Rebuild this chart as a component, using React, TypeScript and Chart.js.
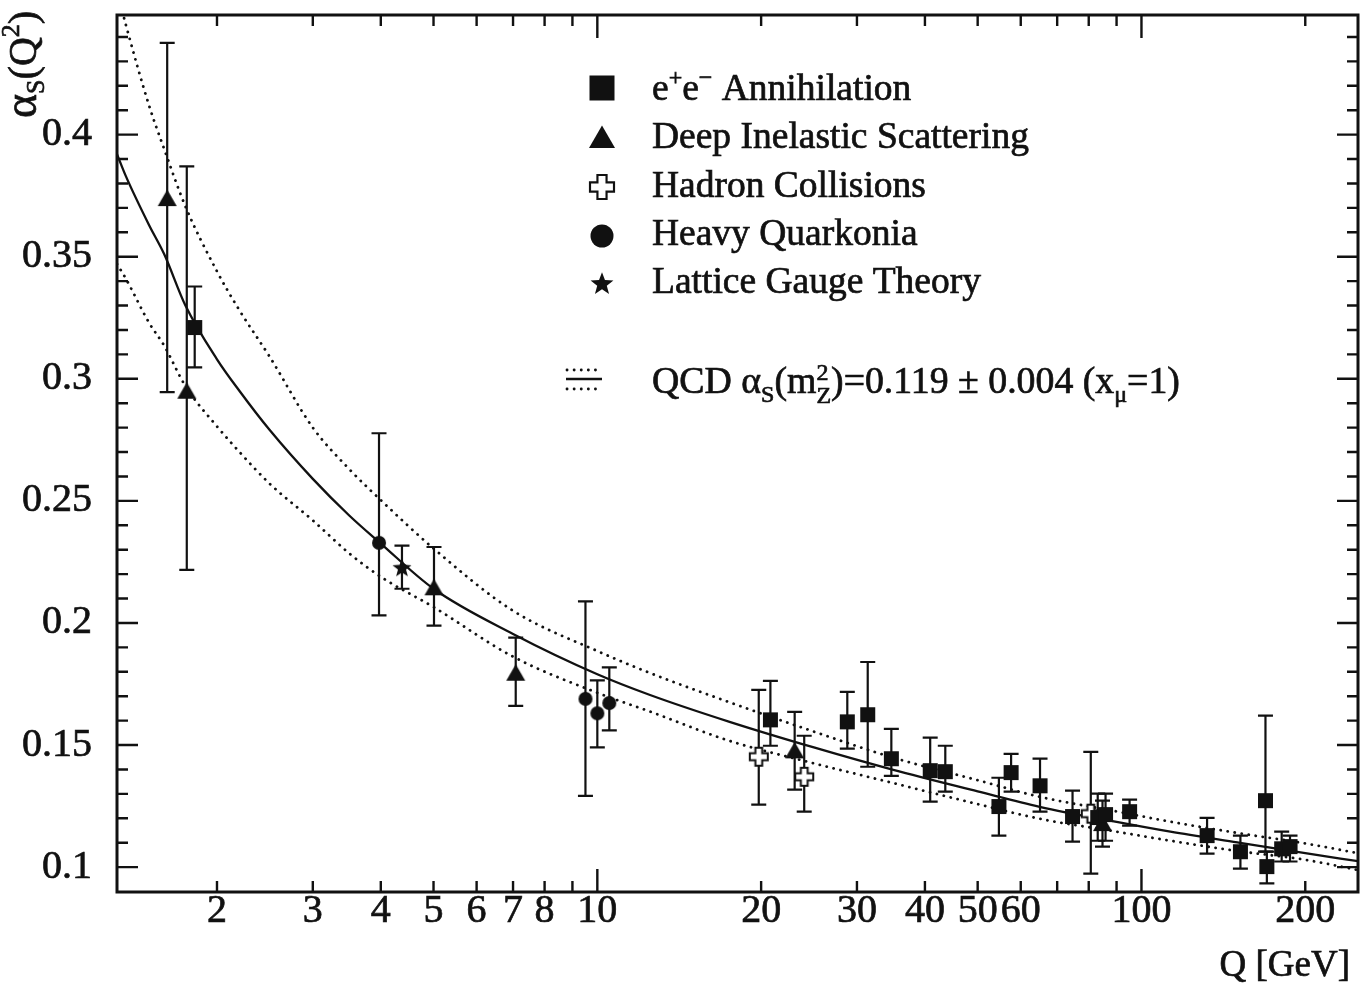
import React, { useEffect, useRef } from 'react';
import { Chart, registerables } from 'chart.js';

Chart.register(...registerables);

// ---------------- data ----------------
// e+e- annihilation (filled squares)
const eeQ = [1.82, 20.8, 28.8, 31.4, 34.7, 40.9, 43.6, 54.7, 57.6, 65.1, 74.7, 83.1, 85.9, 95.1, 132, 152, 169, 170, 181, 187.5];
const eeVal = [0.321, 0.1603, 0.1595, 0.1624, 0.1444, 0.1395, 0.1391, 0.1248, 0.1387, 0.1333, 0.1207, 0.1203, 0.1215, 0.1227, 0.1129, 0.1063, 0.1272, 0.1002, 0.1075, 0.1084];
const eeHigh = [0.3378, 0.1763, 0.1718, 0.184, 0.1566, 0.153, 0.1497, 0.1366, 0.1464, 0.1444, 0.1313, 0.1301, 0.1301, 0.1276, 0.1202, 0.1129, 0.162, 0.1063, 0.1145, 0.1129];
const eeLow = [0.3047, 0.1497, 0.1485, 0.1411, 0.1374, 0.1268, 0.1309, 0.1129, 0.1309, 0.1227, 0.1104, 0.1108, 0.1108, 0.117, 0.1055, 0.0994, 0.1063, 0.0933, 0.1023, 0.1023];

// Deep inelastic scattering (filled triangles)
const disQ = [1.62, 1.76, 5.01, 7.08, 23.05, 84.8];
const disVal = [0.3734, 0.2945, 0.214, 0.179, 0.1472, 0.1174];
const disHigh = [0.4376, 0.387, 0.2311, 0.194, 0.1636, 0.1272];
const disLow = [0.2945, 0.2217, 0.1989, 0.166, 0.1317, 0.1084];

// Hadron collisions (open crosses)
const hadQ = [19.8, 24.0, 80.7];
const hadVal = [0.1452, 0.137, 0.1219];
const hadHigh = [0.1726, 0.1538, 0.1472];
const hadLow = [0.1256, 0.1227, 0.0973];

// Heavy quarkonia (filled circles)
const quaQ = [3.97, 9.51, 10.0, 10.52];
const quaVal = [0.2328, 0.1689, 0.163, 0.1672];
const quaHigh = [0.2777, 0.2088, 0.1765, 0.1818];
const quaLow = [0.2031, 0.1292, 0.149, 0.156];

// Lattice gauge theory (star)
const latQ = [4.375];
const latVal = [0.2228];
const latHigh = [0.2317];
const latLow = [0.214];

// QCD running curves
const curveQ = [1.31, 1.36, 1.5, 1.6, 1.75, 2, 2.2, 2.5, 3, 3.5, 4, 5, 7, 10, 12.5, 17.5, 25, 35, 50, 65, 90, 113, 150, 200, 250];
const qcdCentral = [0.392, 0.383, 0.363, 0.351, 0.33, 0.308, 0.295, 0.279, 0.259, 0.244, 0.2325, 0.214, 0.1955, 0.179, 0.1705, 0.1595, 0.149, 0.1398, 0.131, 0.1247, 0.1185, 0.1145, 0.1101, 0.1057, 0.1024];
const qcdUpper = [0.459, 0.445, 0.412, 0.394, 0.3706, 0.344, 0.328, 0.309, 0.28, 0.263, 0.2503, 0.2305, 0.205, 0.1885, 0.1795, 0.1675, 0.1555, 0.1448, 0.1356, 0.1288, 0.1228, 0.1186, 0.114, 0.1097, 0.1057];
const qcdLower = [0.347, 0.341, 0.323, 0.3135, 0.297, 0.2805, 0.27, 0.257, 0.242, 0.2285, 0.2189, 0.2065, 0.1862, 0.1714, 0.1637, 0.1517, 0.1425, 0.1344, 0.1258, 0.1198, 0.1145, 0.1108, 0.1066, 0.103, 0.0988];

// ticks
const xTickValues = [2, 3, 4, 5, 6, 7, 8, 9, 10, 20, 30, 40, 50, 60, 70, 80, 90, 100, 200];
const xTickLabels = [2, 3, 4, 5, 6, 7, 8, 10, 20, 30, 40, 50, 60, 100, 200];
const xLongTicks = [10, 100];
const yTickValues = [0.1, 0.15, 0.2, 0.25, 0.3, 0.35, 0.4];
const yMinorTicks = [0.11, 0.12, 0.13, 0.14, 0.16, 0.17, 0.18, 0.19, 0.21, 0.22, 0.23, 0.24, 0.26, 0.27, 0.28, 0.29, 0.31, 0.32, 0.33, 0.34, 0.36, 0.37, 0.38, 0.39, 0.41, 0.42, 0.43, 0.44];

// ---------------- styling ----------------
const FONT = "'Liberation Serif', 'Times New Roman', serif";
const INK = '#111111';
const TEXT_STROKE = 0.7;

type Run = { t: string; size?: number; dy?: number; stack?: { t: string; size: number; dy: number } };

function drawShape(ctx: CanvasRenderingContext2D, kind: string, x: number, y: number, s: number) {
  ctx.save();
  ctx.fillStyle = INK;
  ctx.strokeStyle = INK;
  if (kind === 'square') {
    ctx.fillRect(x - s / 2, y - s / 2, s, s);
  } else if (kind === 'triangle') {
    const h = s * 0.87;
    ctx.beginPath();
    ctx.moveTo(x, y - h * 0.6);
    ctx.lineTo(x + s / 2, y + h * 0.4);
    ctx.lineTo(x - s / 2, y + h * 0.4);
    ctx.closePath();
    ctx.fill();
  } else if (kind === 'circle') {
    ctx.beginPath();
    ctx.arc(x, y, s / 2, 0, Math.PI * 2);
    ctx.fill();
  } else if (kind === 'cross') {
    const a = s / 2;
    const b = s * 0.19;
    ctx.beginPath();
    ctx.moveTo(x - b, y - a);
    ctx.lineTo(x + b, y - a);
    ctx.lineTo(x + b, y - b);
    ctx.lineTo(x + a, y - b);
    ctx.lineTo(x + a, y + b);
    ctx.lineTo(x + b, y + b);
    ctx.lineTo(x + b, y + a);
    ctx.lineTo(x - b, y + a);
    ctx.lineTo(x - b, y + b);
    ctx.lineTo(x - a, y + b);
    ctx.lineTo(x - a, y - b);
    ctx.lineTo(x - b, y - b);
    ctx.closePath();
    ctx.fillStyle = '#ffffff';
    ctx.fill();
    ctx.lineWidth = Math.max(2, s * 0.09);
    ctx.lineJoin = 'miter';
    ctx.stroke();
  } else if (kind === 'star') {
    const R = s / 2;
    ctx.beginPath();
    for (let k = 0; k < 10; k++) {
      const r = k % 2 === 0 ? R : R * 0.42;
      const ang = -Math.PI / 2 + (k * Math.PI) / 5;
      const px = x + r * Math.cos(ang);
      const py = y + R * 0.1 + r * Math.sin(ang);
      if (k === 0) ctx.moveTo(px, py);
      else ctx.lineTo(px, py);
    }
    ctx.closePath();
    ctx.fill();
  }
  ctx.restore();
}

function makeMarker(kind: string, s: number): HTMLCanvasElement {
  const c = document.createElement('canvas');
  const size = Math.ceil(s + 6);
  c.width = size;
  c.height = size;
  const ctx = c.getContext('2d')!;
  drawShape(ctx, kind, size / 2, size / 2, s);
  return c;
}

function drawRuns(ctx: CanvasRenderingContext2D, runs: Run[], x: number, y: number, base = 37.5) {
  let cx = x;
  ctx.lineWidth = TEXT_STROKE;
  ctx.strokeStyle = INK;
  ctx.fillStyle = INK;
  for (const r of runs) {
    ctx.font = `${r.size ?? base}px ${FONT}`;
    ctx.fillText(r.t, cx, y + (r.dy ?? 0));
    ctx.strokeText(r.t, cx, y + (r.dy ?? 0));
    let w = ctx.measureText(r.t).width;
    if (r.stack) {
      ctx.font = `${r.stack.size}px ${FONT}`;
      ctx.fillText(r.stack.t, cx, y + r.stack.dy);
      ctx.strokeText(r.stack.t, cx, y + r.stack.dy);
      w = Math.max(w, ctx.measureText(r.stack.t).width);
    }
    cx += w;
  }
  return cx;
}

const series = [
  { label: 'e+e− Annihilation', kind: 'square', q: eeQ, v: eeVal, hi: eeHigh, lo: eeLow, size: 15, legendSize: 25, legendY: 88,
    runs: [{ t: 'e' }, { t: '+', size: 24, dy: -15 }, { t: 'e' }, { t: '−', size: 24, dy: -15 }, { t: ' Annihilation' }] as Run[] },
  { label: 'Deep Inelastic Scattering', kind: 'triangle', q: disQ, v: disVal, hi: disHigh, lo: disLow, size: 19, legendSize: 26, legendY: 139,
    runs: [{ t: 'Deep Inelastic Scattering' }] as Run[] },
  { label: 'Hadron Collisions', kind: 'cross', q: hadQ, v: hadVal, hi: hadHigh, lo: hadLow, size: 18, legendSize: 24, legendY: 187,
    runs: [{ t: 'Hadron Collisions' }] as Run[] },
  { label: 'Heavy Quarkonia', kind: 'circle', q: quaQ, v: quaVal, hi: quaHigh, lo: quaLow, size: 14, legendSize: 23, legendY: 236,
    runs: [{ t: 'Heavy Quarkonia' }] as Run[] },
  { label: 'Lattice Gauge Theory', kind: 'star', q: latQ, v: latVal, hi: latHigh, lo: latLow, size: 20, legendSize: 24, legendY: 283,
    runs: [{ t: 'Lattice Gauge Theory' }] as Run[] },
];
const legendBaselines = [100, 148, 197, 245, 293];

const qcdRuns: Run[] = [
  { t: 'QCD ' },
  { t: 'α' },
  { t: 'S', size: 24, dy: 9 },
  { t: '(m' },
  { t: '2', size: 24, dy: -13, stack: { t: 'Z', size: 24, dy: 10 } },
  { t: ')=0.119 ± 0.004 (x' },
  { t: 'μ', size: 24, dy: 9 },
  { t: '=1)' },
];

const yTitleRuns: Run[] = [
  { t: 'α', size: 46 },
  { t: 'S', size: 26, dy: 8 },
  { t: '(Q', size: 40 },
  { t: '2', size: 26, dy: -17 },
  { t: ')', size: 40 },
];

// ---------------- plugins ----------------
const errorBarPlugin = {
  id: 'errorBars',
  beforeDatasetsDraw(chart: any) {
    const { ctx } = chart;
    const xs = chart.scales.x;
    const ys = chart.scales.y;
    ctx.save();
    ctx.strokeStyle = INK;
    ctx.lineWidth = 2.2;
    for (const s of series) {
      for (let i = 0; i < s.q.length; i++) {
        const px = xs.getPixelForValue(s.q[i]);
        const ph = ys.getPixelForValue(s.hi[i]);
        const pl = ys.getPixelForValue(s.lo[i]);
        ctx.beginPath();
        ctx.moveTo(px, ph);
        ctx.lineTo(px, pl);
        ctx.moveTo(px - 7.5, ph);
        ctx.lineTo(px + 7.5, ph);
        ctx.moveTo(px - 7.5, pl);
        ctx.lineTo(px + 7.5, pl);
        ctx.stroke();
      }
    }
    ctx.restore();
  },
};

const framePlugin = {
  id: 'frame',
  afterDraw(chart: any) {
    const { ctx, chartArea: a } = chart;
    const xs = chart.scales.x;
    const ys = chart.scales.y;
    ctx.save();
    ctx.strokeStyle = INK;
    ctx.lineWidth = 3;
    ctx.strokeRect(a.left, a.top, a.right - a.left, a.bottom - a.top);
    ctx.lineWidth = 2.4;
    ctx.beginPath();
    for (const v of yTickValues) {
      const py = ys.getPixelForValue(v);
      ctx.moveTo(a.left, py);
      ctx.lineTo(a.left + 21, py);
      ctx.moveTo(a.right, py);
      ctx.lineTo(a.right - 21, py);
    }
    for (const v of yMinorTicks) {
      const py = ys.getPixelForValue(v);
      ctx.moveTo(a.left, py);
      ctx.lineTo(a.left + 11, py);
      ctx.moveTo(a.right, py);
      ctx.lineTo(a.right - 11, py);
    }
    for (const v of xTickValues) {
      const px = xs.getPixelForValue(v);
      const len = xLongTicks.includes(v) ? 23 : 11;
      ctx.moveTo(px, a.bottom);
      ctx.lineTo(px, a.bottom - len);
      ctx.moveTo(px, a.top);
      ctx.lineTo(px, a.top + len);
    }
    ctx.stroke();
    ctx.restore();
  },
};

const textPlugin = {
  id: 'texts',
  afterDraw(chart: any) {
    const { ctx, chartArea: a } = chart;
    ctx.save();
    ctx.textBaseline = 'alphabetic';
    ctx.textAlign = 'left';

    // legend
    const mx = a.left + 485;
    const tx = a.left + 535;
    series.forEach((s, i) => {
      drawShape(ctx, s.kind, mx, s.legendY, s.legendSize);
      drawRuns(ctx, s.runs, tx, legendBaselines[i]);
    });
    // QCD legend symbol
    ctx.strokeStyle = INK;
    ctx.lineWidth = 2.8;
    ctx.lineCap = 'round';
    ctx.setLineDash([0.1, 7]);
    ctx.beginPath();
    ctx.moveTo(a.left + 450, 370);
    ctx.lineTo(a.left + 484, 370);
    ctx.moveTo(a.left + 450, 389);
    ctx.lineTo(a.left + 484, 389);
    ctx.stroke();
    ctx.setLineDash([]);
    ctx.lineCap = 'butt';
    ctx.lineWidth = 2.4;
    ctx.beginPath();
    ctx.moveTo(a.left + 449, 379);
    ctx.lineTo(a.left + 485, 379);
    ctx.stroke();
    drawRuns(ctx, qcdRuns, tx, 393, 37.8);

    // x title
    ctx.textAlign = 'right';
    ctx.font = `37px ${FONT}`;
    ctx.fillStyle = INK;
    ctx.strokeStyle = INK;
    ctx.lineWidth = TEXT_STROKE;
    ctx.fillText('Q [GeV]', a.right - 8, 976);
    ctx.strokeText('Q [GeV]', a.right - 8, 976);
    ctx.textAlign = 'left';

    // y title (rotated)
    ctx.save();
    ctx.translate(36, 118);
    ctx.rotate(-Math.PI / 2);
    drawRuns(ctx, yTitleRuns, 0, 0, 40);
    ctx.restore();

    ctx.restore();
  },
};

// ---------------- component ----------------
export default function App() {
  const ref = useRef<HTMLCanvasElement>(null);

  useEffect(() => {
    document.body.style.margin = '0';
    document.body.style.background = '#ffffff';
    const canvas = ref.current;
    if (!canvas) return;

    const lineDs = (vals: number[], dotted: boolean, label: string) => ({
      type: 'line' as const,
      label,
      data: curveQ.map((x, i) => ({ x, y: vals[i] })),
      borderColor: INK,
      borderWidth: dotted ? 2.8 : 2.3,
      borderDash: dotted ? [0.1, 7] : [],
      borderCapStyle: dotted ? ('round' as const) : ('butt' as const),
      pointRadius: 0,
      fill: false,
      cubicInterpolationMode: 'monotone' as const,
      order: 3,
    });

    const scatterDs = series.map((s) => ({
      type: 'scatter' as const,
      label: s.label,
      data: s.q.map((x, i) => ({ x, y: s.v[i] })),
      pointStyle: makeMarker(s.kind, s.size),
      pointRadius: 8,
      backgroundColor: INK,
      borderColor: INK,
      showLine: false,
      order: 1,
    }));

    const tickFont = { family: FONT, size: 40, lineHeight: 1 };

    const chart = new Chart(canvas, {
      type: 'scatter',
      data: {
        datasets: [
          lineDs(qcdUpper, true, 'QCD upper'),
          lineDs(qcdLower, true, 'QCD lower'),
          lineDs(qcdCentral, false, 'QCD central'),
          ...scatterDs,
        ] as any,
      },
      options: {
        animation: false,
        responsive: true,
        maintainAspectRatio: false,
        events: [],
        layout: { padding: { top: 15, right: 6, left: 0, bottom: 0 } },
        plugins: { legend: { display: false }, tooltip: { enabled: false }, title: { display: false } },
        scales: {
          x: {
            type: 'logarithmic',
            min: 1.31,
            max: 250,
            grid: { display: false },
            border: { display: false },
            afterBuildTicks: (s: any) => {
              s.ticks = xTickValues.map((v) => ({ value: v }));
            },
            afterFit: (s: any) => {
              s.height = 91;
              s.paddingLeft = 0;
              s.paddingRight = 0;
            },
            ticks: {
              autoSkip: false,
              maxRotation: 0,
              padding: -9,
              color: INK,
              textStrokeColor: INK,
              textStrokeWidth: TEXT_STROKE,
              font: tickFont,
              callback: (v: any) => (xTickLabels.includes(Number(v)) ? String(v) : ''),
            },
          },
          y: {
            type: 'linear',
            min: 0.0898,
            max: 0.449,
            grid: { display: false },
            border: { display: false },
            afterBuildTicks: (s: any) => {
              s.ticks = yTickValues.map((v) => ({ value: v }));
            },
            afterFit: (s: any) => {
              s.width = 117;
              s.paddingTop = 0;
              s.paddingBottom = 0;
            },
            ticks: {
              padding: 17,
              color: INK,
              textStrokeColor: INK,
              textStrokeWidth: TEXT_STROKE,
              font: tickFont,
              callback: (v: any) => String(v),
            },
          },
        },
      } as any,
      plugins: [errorBarPlugin, framePlugin, textPlugin],
    });

    return () => chart.destroy();
  }, []);

  return (
    <div style={{ width: 1367, height: 983, position: 'relative', background: '#ffffff', overflow: 'hidden' }}>
      <canvas ref={ref} />
    </div>
  );
}
